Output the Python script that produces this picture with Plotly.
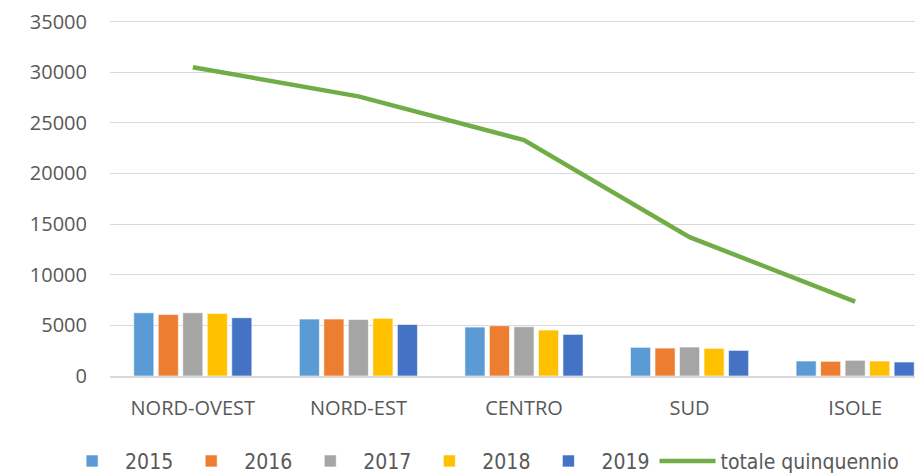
import plotly.graph_objects as go

categories = ["NORD-OVEST", "NORD-EST", "CENTRO", "SUD", "ISOLE"]
years = ["2015", "2016", "2017", "2018", "2019"]
v2015 = [6240, 5620, 4830, 2830, 1480]
v2016 = [6080, 5620, 4960, 2760, 1450]
v2017 = [6240, 5590, 4860, 2860, 1550]
v2018 = [6180, 5690, 4530, 2730, 1480]
v2019 = [5750, 5090, 4110, 2530, 1380]
totale = [30490, 27610, 23290, 13710, 7340]
y_ticks = [0, 5000, 10000, 15000, 20000, 25000, 30000, 35000]

colors = ["#5b9bd5", "#ed7d31", "#a5a5a5", "#ffc000", "#4472c4"]
series = [v2015, v2016, v2017, v2018, v2019]

fig = go.Figure()
for name, vals, c in zip(years, series, colors):
    fig.add_trace(go.Bar(x=categories, y=vals, name=name,
                         marker=dict(color=c, line=dict(color="rgba(255,255,255,0.6)", width=1))))
fig.add_trace(go.Scatter(x=categories, y=totale, name="totale quinquennio", mode="lines",
                         line=dict(color="#70ad47", width=4.5)))

fig.update_layout(
    width=923, height=473,
    margin=dict(l=102, r=0, t=11.5, b=105, autoexpand=False),
    paper_bgcolor="white", plot_bgcolor="white",
    barmode="group", bargap=0.26, bargroupgap=0.18,
    font=dict(family="Open Sans", size=20, color="#595959"),
    legend=dict(orientation="h", x=-0.062, xanchor="left",
                y=-0.182, yanchor="top",
                font=dict(size=21, color="#595959", family="DejaVu Sans Condensed"),
                traceorder="normal", itemwidth=56),
    xaxis=dict(range=[-0.5, 4.458], showline=True, linecolor="#d9d9d9", linewidth=1.5,
               tickfont=dict(size=20, color="#595959"), ticks="", ticklabelstandoff=13,
               automargin=False),
    yaxis=dict(range=[0, 35150], tickvals=y_ticks, ticktext=[str(t) for t in y_ticks],
               showgrid=True, gridcolor="#d9d9d9", gridwidth=1, zeroline=False,
               tickfont=dict(size=20, color="#595959"), ticklabelstandoff=22,
               ticklabeloverflow="allow", automargin=False),
)

fig.write_html("out.html")
